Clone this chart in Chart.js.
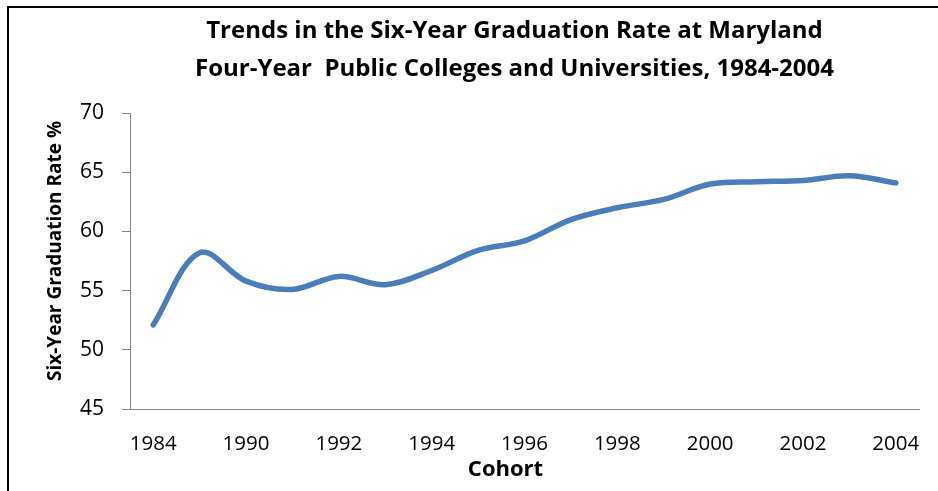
<!DOCTYPE html>
<html>
<head>
<meta charset="utf-8">
<script src="https://cdn.jsdelivr.net/npm/chart.js@4/dist/chart.umd.min.js"></script>
<style>
  html, body { margin: 0; padding: 0; background: #fff; }
  #wrap { position: relative; width: 938px; height: 491px; overflow: hidden; }
  #frame { position: absolute; left: 7px; top: 6px; right: -4px; bottom: -4px;
           border-top: 2px solid #000; border-left: 2px solid #000; pointer-events: none; }
  canvas { display: block; }
</style>
</head>
<body>
<div id="wrap">
  <canvas id="c" width="938" height="491"></canvas>
  <div id="frame"></div>
</div>
<script>
// ---- data ----
const cohorts = ['1984','1989','1990','1991','1992','1993','1994','1995','1996',
                 '1997','1998','1999','2000','2001','2002','2003','2004'];
const gradRate = [52.1, 58.2, 55.8, 55.1, 56.2, 55.5, 56.7, 58.4, 59.2,
                  61.0, 62.0, 62.7, 64.0, 64.2, 64.3, 64.7, 64.1];
const yTicks = [45, 50, 55, 60, 65, 70];
const titleLines = ['Trends in the Six-Year Graduation Rate at Maryland',
                    'Four-Year  Public Colleges and Universities, 1984-2004'];
const xTitle = 'Cohort';
const yTitle = 'Six-Year Graduation Rate %';

const FONT = '"Open Sans", "Noto Sans", "DejaVu Sans", sans-serif';
const AXIS = '#868686';
const PAD = { left: 44, top: 0, right: 19, bottom: 8 };

// place chart title and axis titles where the reference has them
const titleShift = {
  id: 'titleShift',
  afterLayout(chart) {
    const t = chart.titleBlock;
    if (t) { t.left += 33; t.right += 33; }
    const sx = chart.scales.x, sy = chart.scales.y;
    if (sx && !sx._shifted) {
      const orig = sx.drawTitle;
      sx.drawTitle = function () {
        const l = this.left, r = this.right;
        this.left -= 19; this.right -= 19;
        orig.apply(this, arguments);
        this.left = l; this.right = r;
      };
      sx._shifted = true;
    }
    if (sy && !sy._shifted) {
      const orig = sy.drawTitle;
      sy.drawTitle = function () {
        const t0 = this.top, b0 = this.bottom;
        this.top -= 10; this.bottom -= 10;
        orig.apply(this, arguments);
        this.top = t0; this.bottom = b0;
      };
      sy._shifted = true;
    }
  }
};

new Chart(document.getElementById('c'), {
  type: 'line',
  data: {
    labels: cohorts,
    datasets: [{
      data: gradRate,
      borderColor: '#4a7ebb',
      backgroundColor: '#4a7ebb',
      borderWidth: 5.5,
      borderCapStyle: 'round',
      borderJoinStyle: 'round',
      pointRadius: 0,
      pointHoverRadius: 0,
      tension: 0.35,
      fill: false
    }]
  },
  plugins: [titleShift],
  options: {
    responsive: false,
    animation: false,
    events: [],
    layout: { padding: PAD },
    plugins: {
      legend: { display: false },
      tooltip: { enabled: false },
      title: {
        display: true,
        text: titleLines,
        color: '#000',
        font: { family: FONT, size: 24, weight: 'bold', lineHeight: 38 / 24 },
        padding: { top: 12, bottom: 25 }
      }
    },
    scales: {
      x: {
        type: 'category',
        offset: true,
        grid: { display: false },
        border: { display: true, color: AXIS, width: 1 },
        ticks: {
          autoSkip: false,
          maxRotation: 0,
          color: '#000',
          padding: 15,
          font: { family: FONT, size: 20.5 },
          callback: function (v, i) { return i % 2 === 0 ? cohorts[i] : ''; }
        },
        title: {
          display: true,
          text: xTitle,
          color: '#000',
          padding: 0,
          font: { family: FONT, size: 22, weight: 'bold', lineHeight: 1.2 }
        },
        afterFit: function (s) { s.height = 491 - 409 - PAD.bottom; }
      },
      y: {
        min: yTicks[0],
        max: yTicks[yTicks.length - 1],
        afterBuildTicks: function (s) { s.ticks = yTicks.map(v => ({ value: v })); },
        grid: { display: true, drawOnChartArea: false, drawTicks: true, tickLength: 8, color: AXIS },
        border: { display: true, color: AXIS, width: 1 },
        ticks: {
          color: '#000',
          padding: 18,
          font: { family: FONT, size: 21 }
        },
        title: {
          display: true,
          text: yTitle,
          color: '#000',
          padding: 0,
          font: { family: FONT, size: 19, weight: 'bold', lineHeight: 1.2 }
        },
        afterFit: function (s) { s.width = 130 - PAD.left; }
      }
    }
  }
});
</script>
</body>
</html>
